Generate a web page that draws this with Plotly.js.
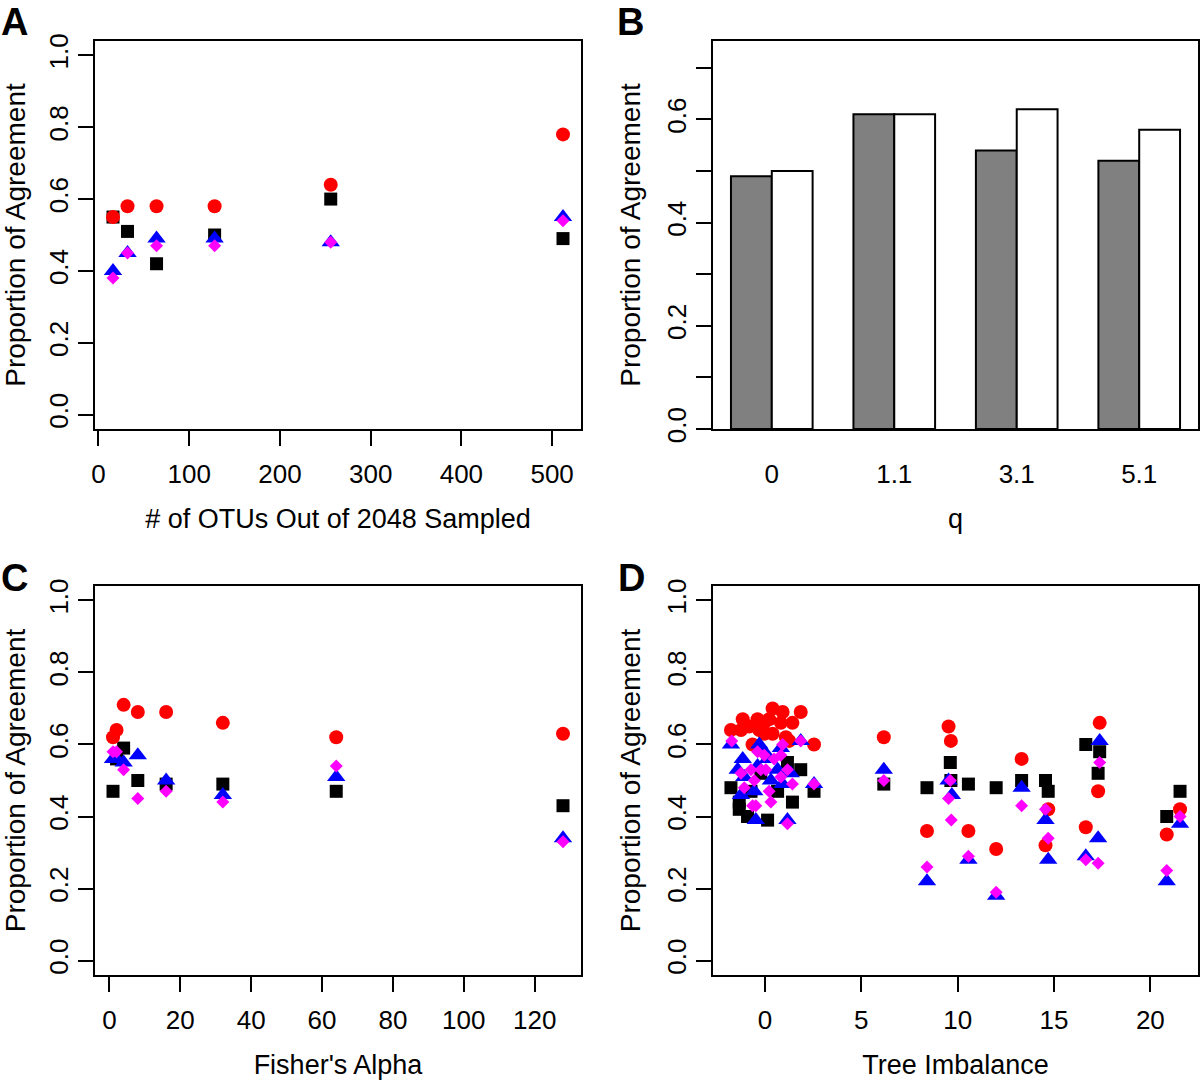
<!DOCTYPE html>
<html>
<head>
<meta charset="utf-8">
<script src="https://cdn.plot.ly/plotly-3.0.1.min.js"></script>
<style>html,body{margin:0;padding:0;background:#fff;}#chart{width:1200px;height:1080px;}</style>
</head>
<body>
<div id="chart"></div>
<script>
// ---------- Panel A: # of OTUs sampled ----------
const otus = [16, 32, 64, 128, 256, 512];
const A_black   = [0.55, 0.51, 0.42, 0.50, 0.60, 0.49];
const A_red     = [0.55, 0.58, 0.58, 0.58, 0.64, 0.78];
const A_blue    = [0.40, 0.45, 0.49, 0.49, 0.48, 0.55];
const A_magenta = [0.38, 0.45, 0.47, 0.47, 0.48, 0.54];

// ---------- Panel B: q ----------
const qLabels = ["0", "1.1", "3.1", "5.1"];
const B_gray  = [0.49, 0.61, 0.54, 0.52];
const B_white = [0.50, 0.61, 0.62, 0.58];

// ---------- Panel C: Fisher's alpha ----------
const alpha = [1, 2, 4, 8, 16, 32, 64, 128];
const C_black   = [0.47, 0.56, 0.59, 0.50, 0.49, 0.49, 0.47, 0.43];
const C_red     = [0.62, 0.64, 0.71, 0.69, 0.69, 0.66, 0.62, 0.63];
const C_blue    = [0.56, 0.56, 0.55, 0.57, 0.50, 0.46, 0.51, 0.34];
const C_magenta = [0.58, 0.58, 0.53, 0.45, 0.47, 0.44, 0.54, 0.33];

// ---------- Panel D: tree imbalance ----------
const D_black_x = [-1.76, -1.33, -1.33, -0.90, 0.14, 1.43, 1.86, 2.55, -0.72, 0.66, -0.21, 1.17,
                   6.17, 8.41, 9.62, 9.65, 10.56, 12.0, 13.32, 14.56, 14.70, 16.65, 17.29, 17.37, 20.85, 21.54];
const D_black_y = [0.48, 0.44, 0.42, 0.40, 0.39, 0.44, 0.53, 0.47, 0.47, 0.47, 0.52, 0.55,
                   0.49, 0.48, 0.55, 0.50, 0.49, 0.48, 0.50, 0.50, 0.47, 0.60, 0.52, 0.58, 0.40, 0.47];
const D_red_x = [-1.76, -1.15, -1.24, -0.81, -0.38, -0.03, 0.22, 0.40, 0.92, 0.83, 1.43, 1.86, 2.55,
                 0.40, -0.03, -0.64, 1.09, 1.26, -0.29,
                 6.17, 8.41, 9.53, 9.65, 10.56, 12.0, 13.32, 14.56, 14.70, 16.65, 17.29, 17.37, 20.85, 21.54];
const D_red_y = [0.64, 0.67, 0.64, 0.65, 0.67, 0.66, 0.67, 0.70, 0.69, 0.66, 0.66, 0.69, 0.60,
                 0.63, 0.63, 0.60, 0.62, 0.61, 0.64,
                 0.62, 0.36, 0.65, 0.61, 0.36, 0.31, 0.56, 0.32, 0.42, 0.37, 0.47, 0.66, 0.35, 0.42];
const D_blue_x = [-1.76, -1.15, 1.86, 2.55, -0.47, 1.17, -0.29, -0.03, 0.83, -1.41, -1.07, 0.14, 0.66,
                  1.34, -0.55, -1.24, 0.31, 0.92, -0.38,
                  6.17, 8.41, 9.53, 9.70, 10.56, 12.0, 13.32, 14.56, 14.70, 16.65, 17.29, 17.37, 20.85, 21.54];
const D_blue_y = [0.60, 0.56, 0.61, 0.49, 0.39, 0.39, 0.60, 0.58, 0.59, 0.53, 0.51, 0.56, 0.53,
                  0.52, 0.47, 0.46, 0.50, 0.49, 0.54,
                  0.53, 0.22, 0.50, 0.46, 0.28, 0.18, 0.48, 0.39, 0.28, 0.29, 0.34, 0.61, 0.22, 0.38];
const D_magenta_x = [-1.72, 1.86, 2.55, -0.47, 1.17, 0.92, -0.38, -0.03, -1.24, -0.72, -0.21, 0.05, 0.48,
                     0.83, 1.17, 0.83, 1.43, -0.55, -1.07, 0.22, 0.31, -0.64,
                     6.17, 8.41, 9.62, 9.53, 9.67, 10.56, 12.0, 13.32, 14.56, 14.70, 16.65, 17.29, 17.37, 20.85, 21.54];
const D_magenta_y = [0.61, 0.61, 0.49, 0.43, 0.38, 0.60, 0.58, 0.57, 0.52, 0.53, 0.53, 0.53, 0.56,
                     0.57, 0.53, 0.51, 0.49, 0.50, 0.48, 0.47, 0.44, 0.43,
                     0.50, 0.26, 0.50, 0.45, 0.39, 0.29, 0.19, 0.43, 0.42, 0.34, 0.28, 0.27, 0.55, 0.25, 0.40];

// ---------- Tick labels ----------
const yTicks = [0, 0.2, 0.4, 0.6, 0.8, 1.0];
const xTicksA = [0, 100, 200, 300, 400, 500];
const xTicksC = [0, 20, 40, 60, 80, 100, 120];
const xTicksD = [0, 5, 10, 15, 20];
const yTicksB = [0, 0.1, 0.2, 0.3, 0.4, 0.5, 0.6, 0.7];
const yTextB  = ["0.0", "", "0.2", "", "0.4", "", "0.6", ""];

// ---------- styling ----------
const FONT = "Liberation Sans, Arial, Helvetica, sans-serif";
const W = 1200, H = 1080;
const colX = [[95 / W, 581 / W], [713 / W, 1198 / W]];
const rowY = [[1 - 429 / H, 1 - 41 / H], [1 - 975 / H, 1 - 586 / H]];

function rRange(vals) {           // R's default 4% axis extension
  const lo = Math.min(...vals), hi = Math.max(...vals), d = (hi - lo) * 0.04;
  return [lo - d, hi + d];
}

const styles = {
  black:   {symbol: "square", size: 13, color: "#000000"},
  red:     {symbol: "circle", size: 14, color: "#FF0000"},
  blue:    {symbol: "triangle-up", size: 16, color: "#0000FF"},
  magenta: {symbol: "diamond", size: 10, color: "#FF00FF"}
};
function pts(x, y, key, ax) {
  const s = styles[key];
  return {type: "scatter", mode: "markers", x: x, y: y, xaxis: "x" + ax, yaxis: "y" + ax,
    name: key, showlegend: false, cliponaxis: false,
    marker: {symbol: s.symbol, size: s.size, color: s.color, line: {width: 0}}};
}

const traces = [
  pts(otus, A_black, "black", ""), pts(otus, A_red, "red", ""),
  pts(otus, A_blue, "blue", ""), pts(otus, A_magenta, "magenta", ""),
  {type: "bar", x: qLabels, y: B_gray, xaxis: "x2", yaxis: "y2", name: "gray", showlegend: false,
   marker: {color: "#808080", line: {color: "#000000", width: 2}}},
  {type: "bar", x: qLabels, y: B_white, xaxis: "x2", yaxis: "y2", name: "white", showlegend: false,
   marker: {color: "#FFFFFF", line: {color: "#000000", width: 2}}},
  pts(alpha, C_black, "black", "3"), pts(alpha, C_red, "red", "3"),
  pts(alpha, C_blue, "blue", "3"), pts(alpha, C_magenta, "magenta", "3"),
  pts(D_black_x, D_black_y, "black", "4"), pts(D_red_x, D_red_y, "red", "4"),
  pts(D_blue_x, D_blue_y, "blue", "4"), pts(D_magenta_x, D_magenta_y, "magenta", "4")
];

const tickFont = {family: FONT, size: 26, color: "#000"};
const xTitleFont = {family: FONT, size: 27, color: "#000"};
const yTitleFont = {family: FONT, size: 28, color: "#000"};

function xAx(domain, anchor, range, ticks, title) {
  const a = {domain: domain, anchor: anchor, range: range, ticks: "outside",
    ticklen: 15, tickwidth: 2, tickcolor: "#000", showline: true, mirror: true, linewidth: 2,
    linecolor: "#000", showgrid: false, zeroline: false, tickfont: tickFont, ticklabelstandoff: 6,
    title: {text: title, font: xTitleFont, standoff: 21}, fixedrange: true};
  if (ticks) { a.tickvals = ticks; }
  return a;
}
function yAx(domain, anchor, range, ticks, text) {
  const a = {domain: domain, anchor: anchor, range: range, tickvals: ticks, ticks: "outside",
    ticklen: 15, tickwidth: 2, tickcolor: "#000", showline: true, mirror: true, linewidth: 2,
    linecolor: "#000", showgrid: false, zeroline: false, tickfont: tickFont, tickangle: -90,
    tickformat: ".1f", ticklabelstandoff: 0,
    title: {text: "Proportion of Agreement", font: yTitleFont, standoff: 13}, fixedrange: true};
  if (text) { a.ticktext = text; a.tickmode = "array"; }
  return a;
}

const allY = [0, 1];
const xB = xAx(colX[1], "y2", [-0.48, 3.48], null, "q");
xB.type = "category";
xB.tickcolor = "rgba(0,0,0,0)";

const layout = {
  width: W, height: H, margin: {l: 0, r: 0, t: 0, b: 0},
  paper_bgcolor: "#fff", plot_bgcolor: "#fff", font: {family: FONT, color: "#000"},
  barmode: "group", bargap: 1 / 3, bargroupgap: 0, showlegend: false,
  xaxis: xAx(colX[0], "y", rRange(otus), xTicksA, "# of OTUs Out of 2048 Sampled"),
  yaxis: yAx(rowY[0], "x", rRange(allY), yTicks),
  xaxis2: xB,
  yaxis2: yAx(rowY[0], "x2", [0, Math.max(...B_gray, ...B_white) * 1.213], yTicksB, yTextB),
  xaxis3: xAx(colX[0], "y3", rRange(alpha), xTicksC, "Fisher's Alpha"),
  yaxis3: yAx(rowY[1], "x3", rRange(allY), yTicks),
  xaxis4: xAx(colX[1], "y4", rRange(D_black_x.concat(D_red_x, D_blue_x, D_magenta_x)), xTicksD, "Tree Imbalance"),
  yaxis4: yAx(rowY[1], "x4", rRange(allY), yTicks),
  annotations: [
    ["A", 0, 0], ["B", 616, 0], ["C", 0, 556], ["D", 617, 556]
  ].map(function (p) {
    return {text: "<b>" + p[0] + "</b>", xref: "paper", yref: "paper", x: p[1] / W, y: 1 - p[2] / H,
      xanchor: "left", yanchor: "top", showarrow: false, borderpad: 0,
      font: {family: "Liberation Sans Narrow, " + FONT, size: 38, color: "#000"}};
  })
};

Plotly.newPlot("chart", traces, layout, {staticPlot: true, displayModeBar: false});
</script>
</body>
</html>
